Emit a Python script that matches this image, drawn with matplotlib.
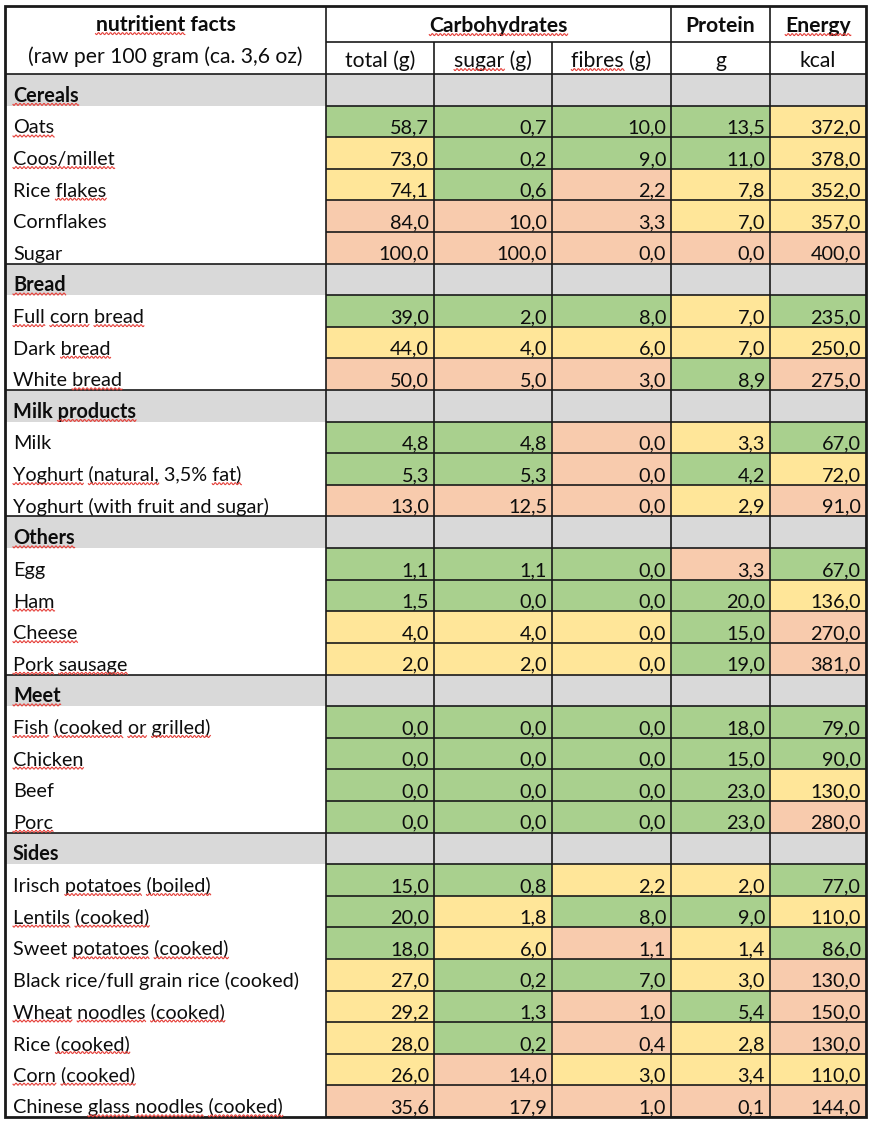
"""
nutrient facts table (raw per 100 g) - Excel style table redrawn with matplotlib
"""
import numpy as np
import matplotlib.pyplot as plt
from matplotlib.patches import Rectangle

plt.rcParams['font.family'] = ['Lato', 'DejaVu Sans']

# ========== data ==========
sections = ['Cereals', 'Bread', 'Milk products', 'Others', 'Meet', 'Sides']
section_sizes = [5, 3, 3, 4, 4, 8]

foods = ['Oats', 'Coos/millet', 'Rice flakes', 'Cornflakes', 'Sugar',
         'Full corn bread', 'Dark bread', 'White bread',
         'Milk', 'Yoghurt (natural, 3,5% fat)', 'Yoghurt (with fruit and sugar)',
         'Egg', 'Ham', 'Cheese', 'Pork sausage',
         'Fish (cooked or grilled)', 'Chicken', 'Beef', 'Porc',
         'Irisch potatoes (boiled)', 'Lentils (cooked)', 'Sweet potatoes (cooked)',
         'Black rice/full grain rice (cooked)', 'Wheat noodles (cooked)',
         'Rice (cooked)', 'Corn (cooked)', 'Chinese glass noodles (cooked)']

total = [58.7, 73.0, 74.1, 84.0, 100.0, 39.0, 44.0, 50.0, 4.8, 5.3, 13.0,
         1.1, 1.5, 4.0, 2.0, 0.0, 0.0, 0.0, 0.0,
         15.0, 20.0, 18.0, 27.0, 29.2, 28.0, 26.0, 35.6]
sugar = [0.7, 0.2, 0.6, 10.0, 100.0, 2.0, 4.0, 5.0, 4.8, 5.3, 12.5,
         1.1, 0.0, 4.0, 2.0, 0.0, 0.0, 0.0, 0.0,
         0.8, 1.8, 6.0, 0.2, 1.3, 0.2, 14.0, 17.9]
fibres = [10.0, 9.0, 2.2, 3.3, 0.0, 8.0, 6.0, 3.0, 0.0, 0.0, 0.0,
          0.0, 0.0, 0.0, 0.0, 0.0, 0.0, 0.0, 0.0,
          2.2, 8.0, 1.1, 7.0, 1.0, 0.4, 3.0, 1.0]
protein = [13.5, 11.0, 7.8, 7.0, 0.0, 7.0, 7.0, 8.9, 3.3, 4.2, 2.9,
           3.3, 20.0, 15.0, 19.0, 18.0, 15.0, 23.0, 23.0,
           2.0, 9.0, 1.4, 3.0, 5.4, 2.8, 3.4, 0.1]
energy = [372.0, 378.0, 352.0, 357.0, 400.0, 235.0, 250.0, 275.0, 67.0, 72.0, 91.0,
          67.0, 136.0, 270.0, 381.0, 79.0, 90.0, 130.0, 280.0,
          77.0, 110.0, 86.0, 130.0, 150.0, 130.0, 110.0, 144.0]

# rating per cell: G = good, Y = medium, P = poor (grouped per section)
total_rating = 'GYYPP GYP GGP GGYY GGGG GGGYYYYP'
sugar_rating = 'GGGPP GYP GGP GGYY GGGG GYYGGGPP'
fibres_rating = 'GGPPP GYP PPP GGYY GGGG YGPGPPYP'
protein_rating = 'GGYYP YYG YGY PGGG GGGG YGYYGYYP'
energy_rating = 'YYYYP GYP GYP GYPP GGYP GYGPPPYP'

sub_headers = ['total (g)', 'sugar (g)', 'fibres (g)', 'g', 'kcal']

# words marked by the spell checker in the screenshot
spell_marks = {
    'nutritient facts': ['nutritient'], 'Carbohydrates': ['Carbohydrates'],
    'sugar (g)': ['sugar'], 'fibres (g)': ['fibres'], 'Energy': ['Energy'],
    'Cereals': ['Cereals'], 'Oats': ['Oats'], 'Coos/millet': ['Coos/millet'],
    'Rice flakes': ['flakes'], 'Bread': ['Bread'],
    'Full corn bread': ['Full', 'corn', 'bread'], 'Dark bread': ['bread'],
    'White bread': ['bread'], 'Milk products': ['products'],
    'Yoghurt (natural, 3,5% fat)': ['Yoghurt', '(natural,', 'fat)'],
    'Others': ['Others'], 'Ham': ['Ham'], 'Cheese': ['Cheese'],
    'Pork sausage': ['Pork', 'sausage'], 'Meet': ['Meet'],
    'Fish (cooked or grilled)': ['Fish', '(cooked', 'or', 'grilled)'],
    'Chicken': ['Chicken'], 'Porc': ['Porc'],
    'Irisch potatoes (boiled)': ['potatoes', '(boiled)'],
    'Lentils (cooked)': ['Lentils', '(cooked)'],
    'Sweet potatoes (cooked)': ['potatoes', '(cooked)'],
    'Wheat noodles (cooked)': ['Wheat', 'noodles', '(cooked)'],
    'Rice (cooked)': ['(cooked)'], 'Corn (cooked)': ['Corn', '(cooked)'],
    'Chinese glass noodles (cooked)': ['glass', 'noodles', '(cooked)'],
}

# ========== layout ==========
W, H = 874, 1125
col_x = [5, 326, 434, 552, 671, 770, 866]
top, head1, head2, bottom = 6, 42, 74, 1117
n_rows = len(foods) + len(sections)
row_h = (bottom - head2) / n_rows

fill = {'G': '#a9d08e', 'Y': '#ffe699', 'P': '#f8cbad'}
GRAY = '#d9d9d9'
LINE = '#1a1a1a'
FS = 14.3
FS_HEAD = 15.2
PAD_B = 3.8  # baseline distance from cell bottom

fig = plt.figure(figsize=(W / 100, H / 100), dpi=100)
ax = fig.add_axes([0, 0, 1, 1])
ax.set_xlim(0, W)
ax.set_ylim(H, 0)
ax.axis('off')

texts = []  # (text object, label) for spell marks


def put(x, y, s, ha='left', bold=False, size=FS):
    t = ax.text(x, y, s, ha=ha, va='baseline', fontsize=size,
                fontweight='bold' if bold else 'normal', color='#0d0d0d')
    if s in spell_marks:
        texts.append((t, s))
    return t


# header
put((col_x[0] + col_x[1]) / 2, 31, 'nutritient facts', ha='center', bold=True, size=FS_HEAD)
put((col_x[0] + col_x[1]) / 2, 63, '(raw per 100 gram (ca. 3,6 oz)', ha='center', size=FS_HEAD)
put((col_x[1] + col_x[4]) / 2, 32, 'Carbohydrates', ha='center', bold=True, size=FS_HEAD)
put((col_x[4] + col_x[5]) / 2, 32, 'Protein', ha='center', bold=True, size=FS_HEAD)
put((col_x[5] + col_x[6]) / 2, 32, 'Energy', ha='center', bold=True, size=FS_HEAD)
for j, s in enumerate(sub_headers):
    put((col_x[j + 1] + col_x[j + 2]) / 2, 67, s, ha='center', size=FS_HEAD)

# body
columns = [total, sugar, fibres, protein, energy]
ratings = [r.replace(' ', '') for r in
           [total_rating, sugar_rating, fibres_rating, protein_rating, energy_rating]]

section_tops = []
row = 0
k = 0
for sec, size in zip(sections, section_sizes):
    y0 = head2 + row * row_h
    section_tops.append(y0)
    ax.add_patch(Rectangle((col_x[0], y0), col_x[-1] - col_x[0], row_h,
                           facecolor=GRAY, edgecolor='none', zorder=0))
    put(13, y0 + row_h - PAD_B, sec, bold=True)
    row += 1
    for _ in range(size):
        y0 = head2 + row * row_h
        put(13, y0 + row_h - PAD_B, foods[k])
        for j in range(5):
            ax.add_patch(Rectangle((col_x[j + 1], y0), col_x[j + 2] - col_x[j + 1], row_h,
                                   facecolor=fill[ratings[j][k]], edgecolor='none', zorder=0))
            val = f'{columns[j][k]:.1f}'.replace('.', ',')
            put(col_x[j + 2] - 5, y0 + row_h - PAD_B, val, ha='right')
        row += 1
        k += 1

# grid lines
lw_in, lw_out = 1.2, 2.0
row_lines = head2 + np.arange(n_rows + 1) * row_h
ax.hlines(row_lines, col_x[1], col_x[-1], color=LINE, lw=lw_in, zorder=2)
ax.hlines(section_tops, col_x[0], col_x[1], color=LINE, lw=lw_in, zorder=2)
ax.hlines([head1], col_x[1], col_x[-1], color=LINE, lw=lw_in, zorder=2)
ax.vlines(col_x[1:-1], head2, bottom, color=LINE, lw=lw_in, zorder=2)
ax.vlines([col_x[1], col_x[4], col_x[5]], top, head2, color=LINE, lw=lw_in, zorder=2)
ax.vlines([col_x[2], col_x[3]], head1, head2, color=LINE, lw=lw_in, zorder=2)
ax.add_patch(Rectangle((col_x[0], top), col_x[-1] - col_x[0], bottom - top,
                       facecolor='none', edgecolor=LINE, lw=lw_out, zorder=3))

# spell check squiggles under marked words
fig.canvas.draw()
renderer = fig.canvas.get_renderer()


def text_width(s, ref):
    tmp = ax.text(0, 0, s, fontsize=ref.get_fontsize(), fontweight=ref.get_fontweight())
    w = tmp.get_window_extent(renderer).width
    tmp.remove()
    return w


for t, s in texts:
    bb = t.get_window_extent(renderer)
    x_left = bb.x0
    base = t.get_position()[1]
    pos = 0
    for word in spell_marks[s]:
        idx = s.index(word, pos)
        pos = idx + len(word)
        x_end = x_left + text_width(s[:pos], t)
        x_start = x_end - text_width(word, t)
        xs = np.linspace(x_start, x_end, max(int((x_end - x_start) * 2), 2))
        ys = base + 2.6 + 1.0 * np.sin(2 * np.pi * (xs - x_start) / 4.0)
        ax.plot(xs, ys, color='#e5403a', lw=0.8, zorder=4)

fig.savefig('out.png', dpi=100)
